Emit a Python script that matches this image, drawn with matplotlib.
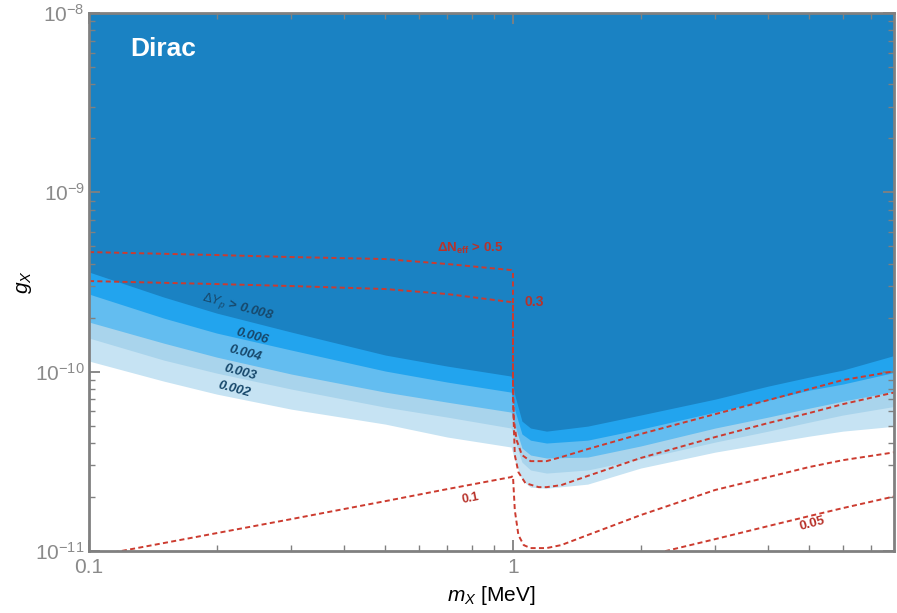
import numpy as np
import matplotlib
matplotlib.use("Agg")
import matplotlib.pyplot as plt
from matplotlib.ticker import LogLocator, FixedLocator, FixedFormatter, NullFormatter

plt.rcParams['font.family'] = ['Liberation Sans', 'DejaVu Sans']
plt.rcParams['mathtext.fontset'] = 'custom'
plt.rcParams['mathtext.rm'] = 'Liberation Sans'
plt.rcParams['mathtext.it'] = 'Liberation Sans:italic'
plt.rcParams['mathtext.bf'] = 'Liberation Sans:bold'

# Delta Y_p bands: lower edge of each region, g_X in units of 1e-10
m_band = [0.1, 0.15, 0.2, 0.3, 0.5, 0.7, 0.99, 1.01, 1.05, 1.1, 1.2, 1.5, 2, 3, 4, 5, 6, 8]
yp_008 = [3.594, 2.607, 2.122, 1.663, 1.238, 1.074, 0.945, 0.740, 0.530, 0.485, 0.466, 0.497, 0.573, 0.703, 0.831, 0.933, 1.021, 1.238]
yp_006 = [2.709, 1.990, 1.642, 1.320, 1.008, 0.875, 0.769, 0.610, 0.449, 0.415, 0.400, 0.415, 0.478, 0.595, 0.694, 0.789, 0.853, 0.995]
yp_004 = [1.891, 1.443, 1.206, 0.970, 0.769, 0.676, 0.595, 0.504, 0.375, 0.343, 0.330, 0.334, 0.385, 0.485, 0.558, 0.626, 0.685, 0.779]
yp_003 = [1.540, 1.161, 0.982, 0.800, 0.634, 0.558, 0.485, 0.415, 0.313, 0.283, 0.272, 0.283, 0.326, 0.405, 0.466, 0.523, 0.573, 0.642]
yp_002 = [1.146, 0.886, 0.750, 0.618, 0.510, 0.432, 0.380, 0.321, 0.2485, 0.227, 0.224, 0.236, 0.290, 0.356, 0.400, 0.437, 0.466, 0.497]

# Delta N_eff contours (g_X in units of 1e-10)
m_n05 = [0.1, 0.2, 0.3, 0.5, 0.7, 0.99, 1.0, 1.0, 1.005, 1.02, 1.05, 1.1, 1.2, 1.3, 1.5, 2, 3, 4, 5, 6, 8]
n_05 = [4.645, 4.470, 4.357, 4.246, 3.983, 3.687, 3.594, 0.898, 0.537, 0.415, 0.343, 0.317, 0.317, 0.334, 0.370, 0.449, 0.580, 0.694, 0.800, 0.898, 1.008]
m_n03 = [0.1, 0.2, 0.3, 0.5, 0.7, 0.99, 1.0, 1.0, 1.01, 1.03, 1.07, 1.15, 1.2, 1.3, 1.5, 2, 3, 4, 5, 6, 8]
n_03 = [3.201, 3.08, 3.002, 2.889, 2.709, 2.444, 2.382, 0.694, 0.343, 0.275, 0.239, 0.227, 0.227, 0.233, 0.262, 0.330, 0.432, 0.517, 0.588, 0.659, 0.769]
m_n01 = [0.1, 0.2, 0.3, 0.5, 0.7, 0.99, 1.0, 1.01, 1.03, 1.06, 1.1, 1.2, 1.3, 1.5, 2, 3, 4, 5, 6, 8]
n_01 = [0.0925, 0.1258, 0.1506, 0.1897, 0.2214, 0.2583, 0.262, 0.169, 0.1227, 0.1079, 0.1038, 0.1038, 0.1079, 0.1227, 0.1585, 0.219, 0.2583, 0.294, 0.321, 0.356]
m_n005 = [2, 3, 4, 5, 6, 8]
n_005 = [0.0925, 0.1165, 0.1377, 0.1566, 0.1735, 0.2024]

x_ticks = [0.1, 1]
x_ticklabels = ['0.1', '1']

band_colors = ['#c6e3f3', '#a9d4ec', '#63bdf0', '#22a4ee', '#1a82c3']
red = '#cc3b2f'
gray = '#808080'

fig = plt.figure(figsize=(8.97, 6.13), dpi=100)
ax = fig.add_axes([89/897, 1-551/613, (894-89)/897, (551-13)/613])

x = np.array(m_band)
top = np.full_like(x, 2e-8)
for edge, c in zip([yp_002, yp_003, yp_004, yp_006, yp_008], band_colors):
    ax.fill_between(x, np.array(edge)*1e-10, top, color=c, lw=0)

dash = (0, (2.6, 1.7))
for mm, gg in [(m_n05, n_05), (m_n03, n_03), (m_n01, n_01), (m_n005, n_005)]:
    ax.plot(mm, np.array(gg)*1e-10, color=red, lw=1.4, ls=dash)

ax.set_xscale('log')
ax.set_yscale('log')
ax.set_xlim(0.1, 7.92)
ax.set_ylim(1e-11, 1e-8)

# contour labels
lab_blue = '#17486b'
ax.text(0.2246, 2.29e-10, r'$\Delta Y_p$ > 0.008', color=lab_blue, fontsize=9.5,
        fontweight='bold', style='italic', rotation=-15, ha='center', va='center')
for xx, yy, s in [(0.2424, 1.58e-10, '0.006'), (0.2333, 1.27e-10, '0.004'),
                  (0.227, 0.995e-10, '0.003'), (0.2198, 0.80e-10, '0.002')]:
    ax.text(xx, yy, s, color=lab_blue, fontsize=9.5, fontweight='bold', style='italic',
            rotation=-15, ha='center', va='center')

lab_red = '#b8322a'
ax.text(0.792, 4.89e-10, r'$\mathbf{\Delta N_{eff}}$ > 0.5', color=lab_red, fontsize=9.5,
        fontweight='bold', ha='center', va='center')
ax.text(1.12, 2.444e-10, '0.3', color=lab_red, fontsize=10, fontweight='bold', ha='center', va='center')
ax.text(0.792, 1.97e-11, '0.1', color=lab_red, fontsize=9, fontweight='bold', rotation=11,
        ha='center', va='center')
ax.text(5.07, 1.41e-11, '0.05', color=lab_red, fontsize=9.5, fontweight='bold', rotation=15,
        ha='center', va='center')

ax.text(0.051, 0.933, 'Dirac', transform=ax.transAxes, color='white', fontsize=19,
        fontweight='bold', ha='left', va='center')

# axes styling
for sp in ax.spines.values():
    sp.set_color(gray)
    sp.set_linewidth(2)
ax.xaxis.set_major_locator(FixedLocator(x_ticks))
ax.xaxis.set_major_formatter(FixedFormatter(x_ticklabels))
ax.xaxis.set_minor_locator(LogLocator(base=10, subs=np.arange(2, 10)))
ax.xaxis.set_minor_formatter(NullFormatter())
ax.yaxis.set_minor_locator(LogLocator(base=10, subs=np.arange(2, 10)))
ax.yaxis.set_minor_formatter(NullFormatter())
ax.tick_params(which='both', direction='in', top=True, right=True, color=gray,
               labelcolor='#8a8a8a', labelsize=15)
ax.tick_params(which='major', length=8, width=1.3, pad=3)
ax.tick_params(which='minor', length=4, width=1.0)
ax.tick_params(axis='x', which='major', pad=5)

ax.set_xlabel(r'$m_X$ [MeV]', fontsize=15, labelpad=5)
ax.set_ylabel(r'$g_X$', fontsize=15, labelpad=1)

fig.savefig('out.png', dpi=100)
